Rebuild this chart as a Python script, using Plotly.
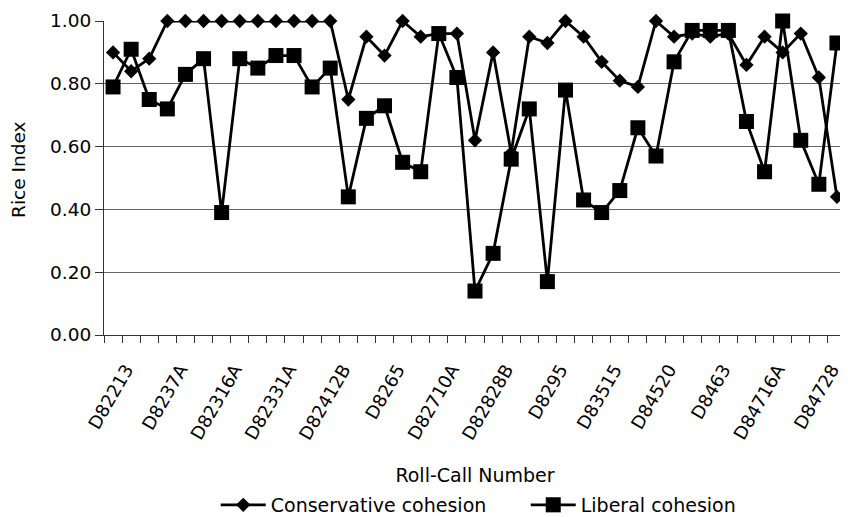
import plotly.graph_objects as go

# Roll-call sequence (41 votes); only every third one is labelled on the axis
roll_call_index = list(range(41))
tick_positions = [1, 4, 7, 10, 13, 16, 19, 22, 25, 28, 31, 34, 37, 40]
tick_labels = ["D82213", "D8237A", "D82316A", "D82331A", "D82412B", "D8265",
               "D82710A", "D82828B", "D8295", "D83515", "D84520", "D8463",
               "D84716A", "D84728"]

conservative = [0.90, 0.84, 0.88, 1.00, 1.00, 1.00, 1.00, 1.00, 1.00, 1.00,
                1.00, 1.00, 1.00, 0.75, 0.95, 0.89, 1.00, 0.95, 0.96, 0.96,
                0.62, 0.90, 0.58, 0.95, 0.93, 1.00, 0.95, 0.87, 0.81, 0.79,
                1.00, 0.95, 0.96, 0.95, 0.96, 0.86, 0.95, 0.90, 0.96, 0.82,
                0.44]
liberal = [0.79, 0.91, 0.75, 0.72, 0.83, 0.88, 0.39, 0.88, 0.85, 0.89,
           0.89, 0.79, 0.85, 0.44, 0.69, 0.73, 0.55, 0.52, 0.96, 0.82,
           0.14, 0.26, 0.56, 0.72, 0.17, 0.78, 0.43, 0.39, 0.46, 0.66,
           0.57, 0.87, 0.97, 0.97, 0.97, 0.68, 0.52, 1.00, 0.62, 0.48,
           0.93]

FONT = "DejaVu Sans, Arial, sans-serif"

fig = go.Figure()
fig.add_trace(go.Scatter(
    x=roll_call_index, y=conservative, name="Conservative cohesion",
    mode="lines+markers", cliponaxis=False,
    line=dict(color="black", width=2.8),
    marker=dict(symbol="diamond", size=11, color="black"),
))
fig.add_trace(go.Scatter(
    x=roll_call_index, y=liberal, name="Liberal cohesion",
    mode="lines+markers", cliponaxis=False,
    line=dict(color="black", width=2.8),
    marker=dict(symbol="square", size=15, color="black"),
))

# the page body has an 8px margin, so the figure is 8px smaller than the window
fig.update_layout(
    width=840, height=509,
    margin=dict(l=96, r=2, t=11, b=182),
    paper_bgcolor="white", plot_bgcolor="white",
    font=dict(family=FONT, size=18.5, color="black"),
    showlegend=True,
    legend=dict(orientation="h", xref="paper", x=0.1506, xanchor="left",
                yref="container", y=0.0236, yanchor="middle",
                font=dict(size=19), itemwidth=45,
                entrywidth=250, entrywidthmode="pixels"),
    annotations=[dict(
        text="Rice Index", textangle=-90, showarrow=False,
        xref="paper", x=-0.1145, xanchor="center",
        yref="paper", y=0.526, yanchor="middle",
        font=dict(size=18.5),
    )],
)
fig.update_xaxes(
    range=[-0.5, 40.5],
    tickmode="array", tickvals=tick_positions, ticktext=tick_labels,
    tickangle=-60, ticks="", showgrid=False, zeroline=False,
    tickfont=dict(size=18), ticklabelshift=-5, ticklabelstandoff=16,
    showline=True, linecolor="#333", linewidth=1,
    minor=dict(ticks="outside", tick0=-0.5, dtick=1, ticklen=7,
               tickcolor="#333", tickwidth=1, showgrid=False),
    title=dict(text="Roll-Call Number", font=dict(size=19), standoff=27),
)
fig.update_yaxes(
    range=[0, 1.0], tickmode="linear", tick0=0, dtick=0.2, tickformat=".2f",
    ticks="outside", ticklen=8, tickcolor="#333",
    showgrid=True, gridcolor="#666", gridwidth=1, zeroline=False,
    showline=True, linecolor="#333", linewidth=1,
)

fig.write_html("out.html")
